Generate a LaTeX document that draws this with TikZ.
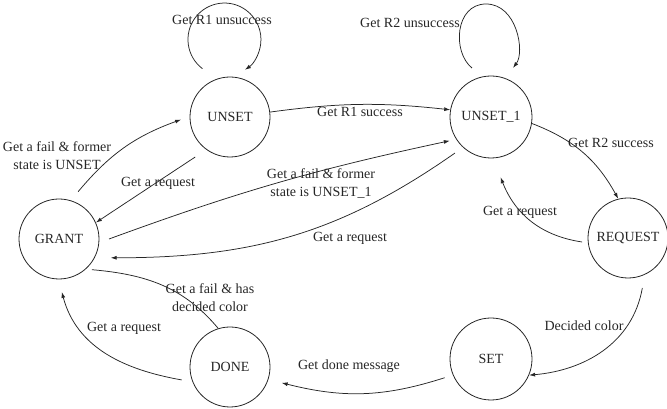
\documentclass[tikz,border=0pt]{standalone}
\usepackage{fontspec}
\setmainfont{Liberation Serif}
\usetikzlibrary{arrows.meta,calc}
\definecolor{ink}{HTML}{262626}
\begin{document}
\begin{tikzpicture}[x=1pt,y=1pt,
  state/.style={circle,draw=ink,line width=0.8pt,minimum size=80pt,inner sep=0pt,
                text=ink,font=\fontsize{14}{16}\selectfont},
  trans/.style={draw=ink,line width=0.75pt,-{Latex[length=6pt,width=4pt]}},
  plainline/.style={draw=ink,line width=0.75pt},
  lbl/.style={text=ink,font=\fontsize{14}{18}\selectfont,align=center,inner sep=0pt}]
\useasboundingbox (0,0) rectangle (667,409);

% states
\node[state] (unset) at (230,292) {UNSET};
\node[state,minimum size=82pt] (unset1) at (491,292) {UNSET\_1};
\node[state] (grant) at (59,170) {GRANT};
\node[state] (request) at (628,171) {REQUEST};
\node[state,minimum size=82pt] (set) at (491,50) {SET};
\node[state] (done) at (230,42) {DONE};

% self loops
\coordinate (loopAs) at ($(unset)+(-27.5,48.3)$);
\draw[trans] (loopAs) arc[start angle=233,end angle=-56,radius=36.5];
\coordinate (loopBs) at ($(unset1)+(-19,49)$);
\coordinate (loopBt) at ($(unset1)+(-5,113)$);
\coordinate (loopBe) at ($(unset1)+(22,49)$);
\draw[trans] (loopBs) .. controls ($(unset1)+(-39,65)$) and ($(unset1)+(-36,113)$) .. (loopBt)
             .. controls ($(unset1)+(26,113)$) and ($(unset1)+(34,65)$) .. (loopBe);

% transitions
\draw[trans] (unset.7) to[bend left=7] (unset1.170);
\draw[trans] (unset1.-9) to[bend left=20] (request.104);
\draw[trans] ($(request)+(185:46)$) to[bend left=30] ($(unset1)+(-81:61)$);
\draw[trans] ($(request)+(-74:52)$) to[out=-100,in=5] (set.-23);
\draw[trans] ($(set)+(202:50)$) to[bend left=16] ($(done)+(-17:54)$);
\draw[trans] ($(done)+(195:50)$) to[out=170,in=-75] ($(grant)+(-87:53)$);
\draw[plainline] (done.107) to[out=130,in=-5] ($(grant)+(-43:45)$);
\draw[trans] ($(grant)+(68:51)$) to[bend left=15] ($(unset)+(183:49)$);
\draw[trans] ($(unset)+(229:53)$) -- (grant.24);
\draw[trans] ($(grant)+(0:50)$) to[bend left=4] ($(unset1)+(210:47.5)$);
\draw[trans] ($(unset1)+(225:51)$) to[out=215,in=0] ($(grant)+(-20:55)$);

% transition labels
\node[lbl] (tR1u) at (222,389) {Get R1 unsuccess};
\node[lbl] (tR2u) at (410,386) {Get R2 unsuccess};
\node[lbl] (tR1s) at (360,297) {Get R1 success};
\node[lbl] (tR2s) at (611,266) {Get R2 success};
\node[lbl] (tReqA) at (520,197) {Get a request};
\node[lbl] (tDec) at (584,83) {Decided color};
\node[lbl] (tDone) at (349,43) {Get done message};
\node[lbl] (tReqB) at (124,81) {Get a request};
\node[lbl] (tFailD) at (210,111) {Get a fail \& has\\decided color};
\node[lbl] (tFailU) at (57,253) {Get a fail \& former\\state is UNSET};
\node[lbl] (tReqC) at (158,226) {Get a request};
\node[lbl] (tFailU1) at (321,226) {Get a fail \& former\\state is UNSET\_1};
\node[lbl] (tReqD) at (350,171) {Get a request};
\end{tikzpicture}
\end{document}
